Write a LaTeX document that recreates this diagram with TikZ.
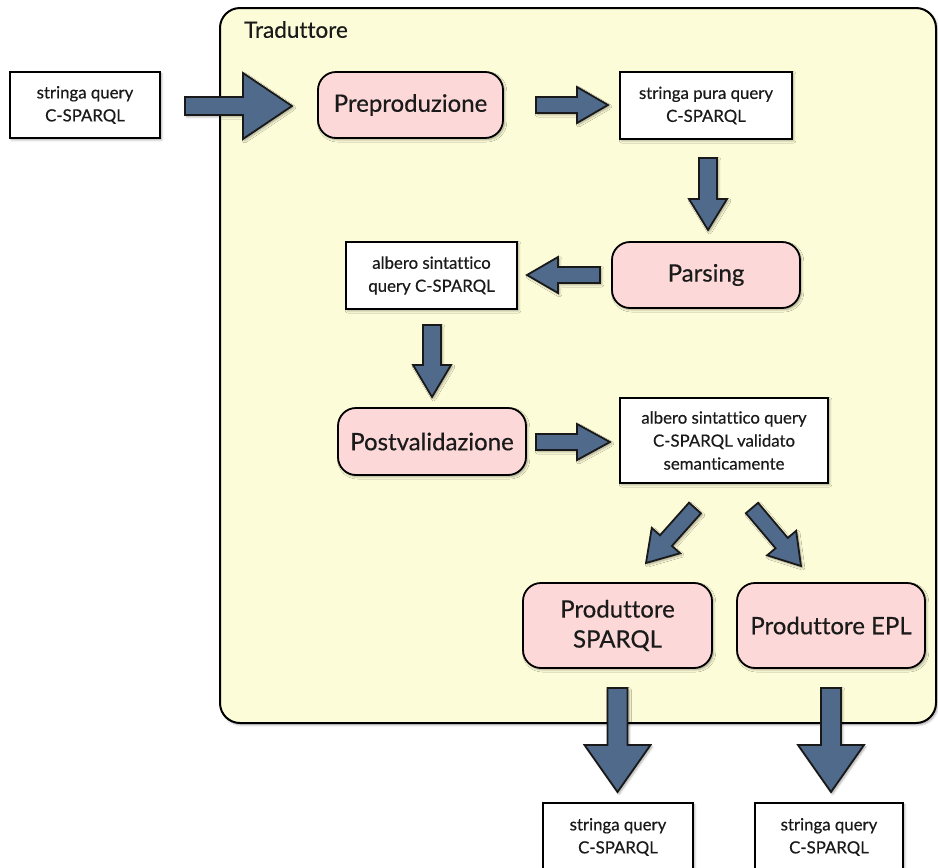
\documentclass[tikz,border=0pt]{standalone}
\usepackage{fontspec}
\setmainfont{Lato}[Ligatures=NoCommon,FakeBold=0.45]
\usetikzlibrary{calc,shadows.blur}

\definecolor{paneyellow}{HTML}{FDFCD8}
\definecolor{steppink}{HTML}{FCD8D8}
\definecolor{flowblue}{HTML}{4F6A8B}
\definecolor{inkgrey}{HTML}{1A1A1A}

\tikzset{
  softshadow/.style={blur shadow={shadow xshift=1.6pt,shadow yshift=-1.8pt,shadow blur steps=6,shadow blur radius=2.2pt,shadow opacity=35}},
  pane/.style={draw=black,line width=2pt,fill=paneyellow,rounded corners=20pt,softshadow},
  stepbox/.style={draw=black,line width=1.8pt,fill=steppink,rounded corners=18pt,softshadow,
    inner sep=0pt,align=center,text=inkgrey,font=\fontsize{24}{30}\selectfont},
  databox/.style={draw=black,line width=1.8pt,fill=white,softshadow,
    inner sep=0pt,align=center,text=inkgrey,font=\fontsize{16.8}{23}\selectfont},
  fatarrow/.style={draw=black!90,line width=1.8pt,fill=flowblue,line join=miter,softshadow},
}

% fat block arrow from #1 to #2: shaft half-width #3, head half-width #4, head length #5
\newcommand{\fatarrow}[5]{%
  \coordinate (fa-base) at ($(#2)!#5!(#1)$);
  \draw[fatarrow] ($(#1)!#3!90:(#2)$) -- ($(fa-base)!#3!90:(#2)$) -- ($(fa-base)!#4!90:(#2)$)
    -- (#2) -- ($(fa-base)!#4!-90:(#2)$) -- ($(fa-base)!#3!-90:(#2)$) -- ($(#1)!#3!-90:(#2)$) -- cycle;
}

\begin{document}
\begin{tikzpicture}[x=1pt,y=-1pt]
  \useasboundingbox (0,0) rectangle (938,868);

  % translator pane
  \draw[pane] (220,8) rectangle (936,723);
  \node[anchor=north west,inner sep=0pt,text=inkgrey,font=\fontsize{22.5}{24}\selectfont] (title) at (244,21) {Traduttore};

  % input
  \node[databox,minimum width=150pt,minimum height=66pt] (in) at (85,105) {stringa query\\C-SPARQL};

  % processing steps
  \node[stepbox,minimum width=185pt,minimum height=66pt] (prep) at (410.5,105) {Preproduzione};
  \node[databox,minimum width=172pt,minimum height=67pt] (pura) at (706,105.5) {stringa pura query\\C-SPARQL};
  \node[stepbox,minimum width=188pt,minimum height=66pt] (pars) at (706,275) {Parsing};
  \node[databox,minimum width=171pt,minimum height=67pt] (tree) at (431.5,275.5) {albero sintattico\\query C-SPARQL};
  \node[stepbox,minimum width=188pt,minimum height=67pt] (post) at (432,441.5) {Postvalidazione};
  \node[databox,minimum width=208pt,minimum height=85pt] (valid) at (724,440.5) {albero sintattico query\\C-SPARQL validato\\semanticamente};
  \node[stepbox,minimum width=189pt,minimum height=85pt] (psparql) at (617.5,625.5) {Produttore\\SPARQL};
  \node[stepbox,minimum width=188pt,minimum height=85pt] (pepl) at (831,625.5) {Produttore EPL};

  % outputs
  \node[databox,minimum width=150pt,minimum height=68pt] (outa) at (618,837) {stringa query\\C-SPARQL};
  \node[databox,minimum width=148pt,minimum height=68pt] (outb) at (829,837) {stringa query\\C-SPARQL};

  % arrow end points
  \coordinate (a1s) at (185,106);   \coordinate (a1e) at (292,106);
  \coordinate (a2s) at (536,105);   \coordinate (a2e) at (608,105);
  \coordinate (a3s) at (708,158);   \coordinate (a3e) at (708,230);
  \coordinate (a4s) at (600,275);   \coordinate (a4e) at (527,275);
  \coordinate (a5s) at (432,325);   \coordinate (a5e) at (432,397);
  \coordinate (a6s) at (536,442);   \coordinate (a6e) at (610,442);
  \coordinate (a7s) at (695,508);   \coordinate (a7e) at (646,563);
  \coordinate (a8s) at (752,508);   \coordinate (a8e) at (801,566);
  \coordinate (a9s) at (617.5,688); \coordinate (a9e) at (617.5,792);
  \coordinate (a10s) at (831,688);  \coordinate (a10e) at (831,792);

  \fatarrow{a1s}{a1e}{9pt}{33pt}{49pt}
  \fatarrow{a2s}{a2e}{8pt}{18pt}{31pt}
  \fatarrow{a3s}{a3e}{9pt}{19pt}{31pt}
  \fatarrow{a4s}{a4e}{8pt}{18pt}{31pt}
  \fatarrow{a5s}{a5e}{9pt}{19pt}{32pt}
  \fatarrow{a6s}{a6e}{8pt}{18pt}{33pt}
  \fatarrow{a7s}{a7e}{8pt}{19pt}{30pt}
  \fatarrow{a8s}{a8e}{8pt}{19pt}{30pt}
  \fatarrow{a9s}{a9e}{10pt}{33pt}{47pt}
  \fatarrow{a10s}{a10e}{10pt}{33pt}{47pt}
\end{tikzpicture}
\end{document}
